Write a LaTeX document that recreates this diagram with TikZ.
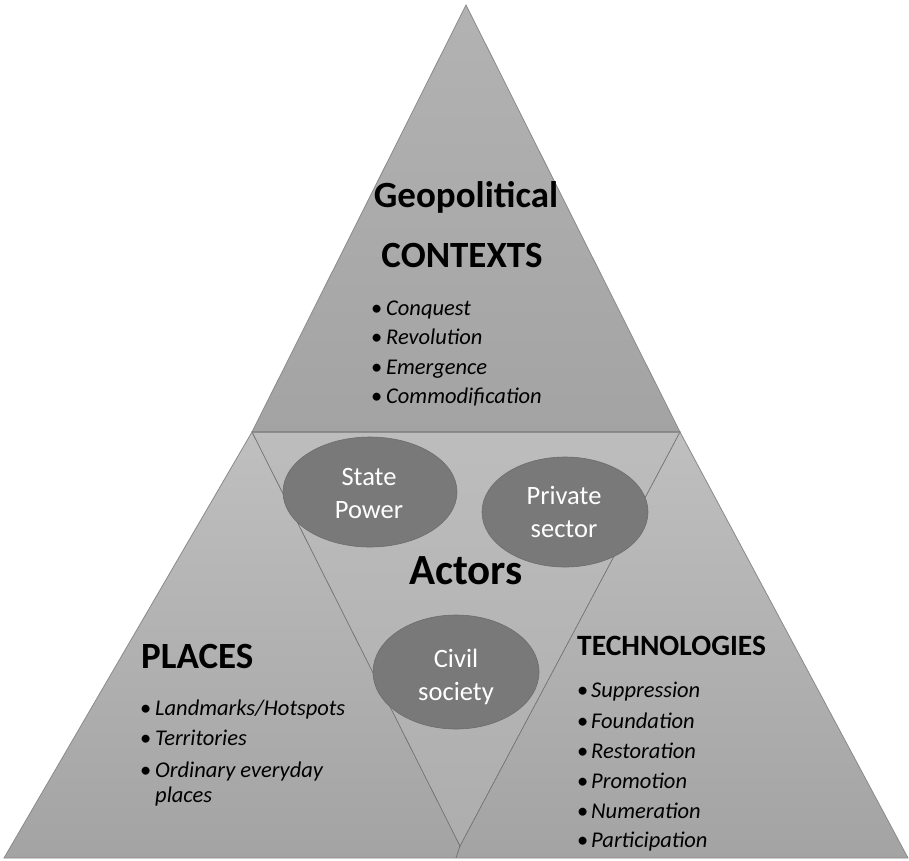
\documentclass[tikz,border=0pt]{standalone}
\usepackage{fontspec}
\setmainfont{Carlito}
\usetikzlibrary{shapes.geometric}
\definecolor{edge}{HTML}{8A8A8A}
\definecolor{seam}{HTML}{707070}
\definecolor{ovalfill}{HTML}{797979}
\definecolor{ovaledge}{HTML}{6C6C6C}
\begin{document}
\begin{tikzpicture}[x=1pt,y=-1pt,
  heading/.style={inner sep=0pt,anchor=base,font=\fontsize{37}{40}\selectfont\bfseries},
  item/.style={inner sep=0pt,anchor=base west,font=\fontsize{22.5}{26}\selectfont\itshape},
  dot/.style={inner sep=0pt,anchor=base west,font=\fontsize{22.5}{26}\selectfont},
  oval/.style={ellipse,fill=ovalfill,draw=ovaledge,line width=0.6pt,inner sep=0pt},
  ovaltext/.style={inner sep=0pt,anchor=base,text=white,font=\fontsize{26.5}{30}\selectfont}]
\useasboundingbox (0,0) rectangle (909,860);

% top triangle
\shade[top color=black!30,bottom color=black!36,draw=edge,line width=0.8pt]
  (466,5) -- (680,432) -- (252,432) -- cycle;
% lower band holding the two side triangles
\shade[top color=black!25,bottom color=black!36,draw=edge,line width=0.8pt]
  (252,432) -- (680,432) -- (908,858) -- (4,858) -- cycle;
% central inverted triangle
\shade[top color=black!26,bottom color=black!32,draw=seam,line width=0.7pt]
  (252,432) -- (680,432) -- (460,846) -- cycle;
\draw[seam,line width=0.7pt] (460,846) -- (456,858);
\draw[seam!80,line width=0.9pt] (252,432) -- (680,432);

% top: contexts
\node[heading] (geo) at (466,207) {Geopolitical};
\node[heading] (ctx) at (462,267) {CONTEXTS};
\foreach \txt/\y [count=\i] in {Conquest/315,Revolution/344.5,Emergence/374,Commodification/403}{
  \node[dot] (ctxb\i) at (371,\y) {\textbullet};
  \node[item] (ctxi\i) at (386,\y) {\txt};
}

% actors
\node[oval,minimum width=174pt,minimum height=110pt] (state) at (370,492) {};
\node[oval,minimum width=166pt,minimum height=110pt] (private) at (565,512) {};
\node[oval,minimum width=166pt,minimum height=114pt] (civil) at (456,672) {};
\node[ovaltext] (state1) at (369,485) {State};
\node[ovaltext] (state2) at (369,518) {Power};
\node[ovaltext] (priv1) at (564,504) {Private};
\node[ovaltext] (priv2) at (564,537) {sector};
\node[ovaltext] (civ1) at (456,667) {Civil};
\node[ovaltext] (civ2) at (456,700) {society};
\node[heading,font=\fontsize{43}{46}\selectfont\bfseries] (actors) at (466,584) {Actors};

% left: places
\node[heading,anchor=base west] (places) at (141,668) {PLACES};
\foreach \txt/\y [count=\i] in {{Landmarks/Hotspots}/715,Territories/745,Ordinary everyday/777}{
  \node[dot] (plb\i) at (140,\y) {\textbullet};
  \node[item] (pli\i) at (155,\y) {\txt};
}
\node[item] (pli4) at (155,802) {places};

% right: technologies
\node[heading,anchor=base west,font=\fontsize{29.5}{32}\selectfont\bfseries] (tech) at (577,655) {TECHNOLOGIES};
\foreach \txt/\y [count=\i] in {Suppression/697,Foundation/728,Restoration/758,Promotion/788,Numeration/818,Participation/847}{
  \node[dot] (teb\i) at (577,\y) {\textbullet};
  \node[item] (tei\i) at (591,\y) {\txt};
}
\end{tikzpicture}
\end{document}
